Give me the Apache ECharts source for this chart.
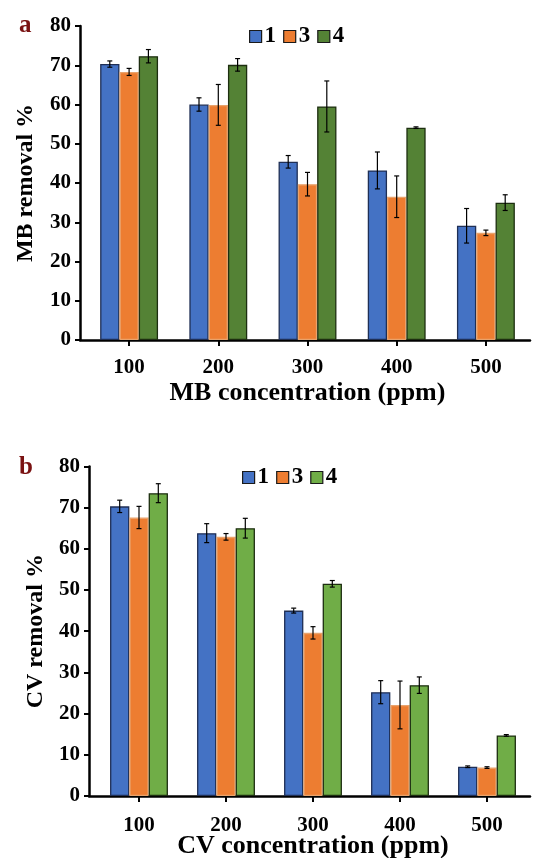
<!DOCTYPE html>
<html>
<head>
<meta charset="utf-8">
<script src="https://cdn.jsdelivr.net/npm/echarts@6/dist/echarts.min.js"></script>
<style>
  html, body { margin: 0; padding: 0; background: #fff; }
  #chart { width: 557px; height: 858px; }
</style>
</head>
<body>
<div id="chart"></div>
<script>
const categories = ['100', '200', '300', '400', '500'];
const seriesNames = ['1', '3', '4'];

// panel a: MB removal %
const mb1 = [70.3, 60.0, 45.4, 43.2, 29.1];
const mb3 = [68.3, 59.9, 39.7, 36.5, 27.3];
const mb4 = [72.3, 70.1, 59.5, 54.1, 35.0];
const mbErr1 = [0.8, 1.7, 1.6, 4.7, 4.4];
const mbErr3 = [0.9, 5.2, 3.0, 5.3, 0.7];
const mbErr4 = [1.7, 1.6, 6.5, 0.2, 2.0];

// panel b: CV removal %
const cv1 = [70.3, 63.8, 45.0, 25.2, 7.1];
const cv3 = [67.6, 62.9, 39.6, 22.1, 6.9];
const cv4 = [73.5, 65.0, 51.5, 26.9, 14.7];
const cvErr1 = [1.5, 2.3, 0.6, 2.8, 0.2];
const cvErr3 = [2.7, 0.8, 1.5, 5.8, 0.2];
const cvErr4 = [2.3, 2.4, 0.8, 2.0, 0.2];

const yTicks = [0, 10, 20, 30, 40, 50, 60, 70, 80];

const font = 'Liberation Serif';
const BAR_W = 19.3;

const colorsA = ['#4472C4', '#ED7D31', '#548235'];
const colorsB = ['#4472C4', '#ED7D31', '#70AD47'];
const borders = ['#1f2f55', '#e9a36c', '#1d2e10'];

function errData(vals, errs) {
  return vals.map((v, i) => [i, v - errs[i], v + errs[i]]);
}

function errRender(slot) {
  return function (params, api) {
    const ci = api.value(0);
    const lo = api.coord([ci, api.value(1)]);
    const hi = api.coord([ci, api.value(2)]);
    const x = lo[0] + (slot - 1) * BAR_W;
    const cap = 2.5;
    const st = { stroke: '#000', lineWidth: 1.2 };
    return {
      type: 'group',
      children: [
        { type: 'line', shape: { x1: x, y1: lo[1], x2: x, y2: hi[1] }, style: st },
        { type: 'line', shape: { x1: x - cap, y1: lo[1], x2: x + cap, y2: lo[1] }, style: st },
        { type: 'line', shape: { x1: x - cap, y1: hi[1], x2: x + cap, y2: hi[1] }, style: st }
      ]
    };
  };
}

function barSeries(name, data, idx, gi, colors) {
  return {
    name: name,
    type: 'bar',
    xAxisIndex: gi,
    yAxisIndex: gi,
    data: data,
    barWidth: BAR_W,
    barGap: '0%',
    itemStyle: { color: colors[idx], borderColor: borders[idx], borderWidth: 1.3 },
    emphasis: { disabled: true }
  };
}

function errSeries(vals, errs, idx, gi) {
  return {
    name: 'err' + gi + idx,
    type: 'custom',
    xAxisIndex: gi,
    yAxisIndex: gi,
    renderItem: errRender(idx),
    data: errData(vals, errs),
    z: 5,
    silent: true
  };
}

function yAxisFor(gi, name, offset, nameGap) {
  return {
    type: 'value',
    gridIndex: gi,
    min: 0,
    max: 80,
    interval: 10,
    offset: offset,
    name: name,
    nameLocation: 'middle',
    nameGap: nameGap,
    nameMoveOverlap: false,
    nameTextStyle: { fontFamily: font, fontWeight: 'bold', fontSize: 24, color: '#000' },
    axisLine: { show: true, lineStyle: { color: '#000', width: 2.5 } },
    axisTick: { show: true, length: 5, lineStyle: { color: '#000', width: 2 } },
    splitLine: { show: false },
    axisLabel: { fontFamily: font, fontWeight: 'bold', fontSize: 21, color: '#000', margin: 9,
      formatter: v => yTicks.includes(v) ? String(v) : '' }
  };
}

function xAxisFor(gi, name, labelMargin, nameGap) {
  return {
    type: 'category',
    gridIndex: gi,
    data: categories,
    name: name,
    nameLocation: 'middle',
    nameGap: nameGap,
    nameMoveOverlap: false,
    nameTextStyle: { fontFamily: font, fontWeight: 'bold', fontSize: 26, color: '#000' },
    axisLine: { show: false },
    axisTick: { show: true, alignWithLabel: true, length: 6, lineStyle: { color: '#000', width: 2 } },
    axisLabel: { fontFamily: font, fontWeight: 'bold', fontSize: 21, color: '#000', margin: labelMargin }
  };
}

// plain line-only axes that run the x axis line from the y axis
function baseLineX(gi) {
  return {
    type: 'value', gridIndex: gi, min: 0, max: 1,
    axisLine: { show: true, onZero: false, lineStyle: { color: '#000', width: 2.5 } },
    axisTick: { show: false }, axisLabel: { show: false }, splitLine: { show: false }
  };
}
function baseLineY(gi) {
  return { type: 'value', gridIndex: gi, min: 0, max: 1, show: false };
}

function legendFor(left, top, colors) {
  return {
    left: left,
    top: top,
    itemWidth: 12,
    itemHeight: 12,
    itemGap: 7,
    selectedMode: false,
    textStyle: { fontFamily: font, fontWeight: 'bold', fontSize: 23, color: '#000', padding: [0, 0, 0, -2] },
    data: seriesNames.map((n, i) => ({
      name: n, icon: 'rect',
      itemStyle: { color: colors[i], borderColor: '#1a1a1a', borderWidth: 1.2 }
    }))
  };
}

const chart = echarts.init(document.getElementById('chart'), null, { renderer: 'canvas' });

const gridBase = { containLabel: false, outerBoundsMode: 'none' };

chart.setOption({
  animation: false,
  backgroundColor: '#fff',
  title: [
    { text: 'a', left: 14, top: 8, textStyle: { fontFamily: font, fontWeight: 'bold', fontSize: 25, color: '#7a1212' } },
    { text: 'b', left: 14, top: 450, textStyle: { fontFamily: font, fontWeight: 'bold', fontSize: 25, color: '#7a1212' } }
  ],
  legend: [legendFor(244, 20, colorsA), legendFor(237, 461, colorsB)],
  grid: [
    Object.assign({ left: 84.5, top: 26, width: 446, bottom: 518 }, gridBase),
    Object.assign({ left: 95.5, top: 466.4, width: 435, bottom: 62 }, gridBase),
    Object.assign({ left: 80, top: 26, right: 27, bottom: 518 }, gridBase),
    Object.assign({ left: 89, top: 466.4, right: 27, bottom: 62 }, gridBase)
  ],
  xAxis: [
    xAxisFor(0, 'MB concentration (ppm)', 17, 40),
    xAxisFor(1, 'CV concentration (ppm)', 19, 37),
    baseLineX(2),
    baseLineX(3)
  ],
  yAxis: [
    yAxisFor(0, 'MB removal %', 4.5, 42),
    yAxisFor(1, 'CV removal %', 6.5, 41),
    baseLineY(2),
    baseLineY(3)
  ],
  series: [
    barSeries('1', mb1, 0, 0, colorsA),
    barSeries('3', mb3, 1, 0, colorsA),
    barSeries('4', mb4, 2, 0, colorsA),
    errSeries(mb1, mbErr1, 0, 0),
    errSeries(mb3, mbErr3, 1, 0),
    errSeries(mb4, mbErr4, 2, 0),
    barSeries('1', cv1, 0, 1, colorsB),
    barSeries('3', cv3, 1, 1, colorsB),
    barSeries('4', cv4, 2, 1, colorsB),
    errSeries(cv1, cvErr1, 0, 1),
    errSeries(cv3, cvErr3, 1, 1),
    errSeries(cv4, cvErr4, 2, 1)
  ]
});
</script>
</body>
</html>
